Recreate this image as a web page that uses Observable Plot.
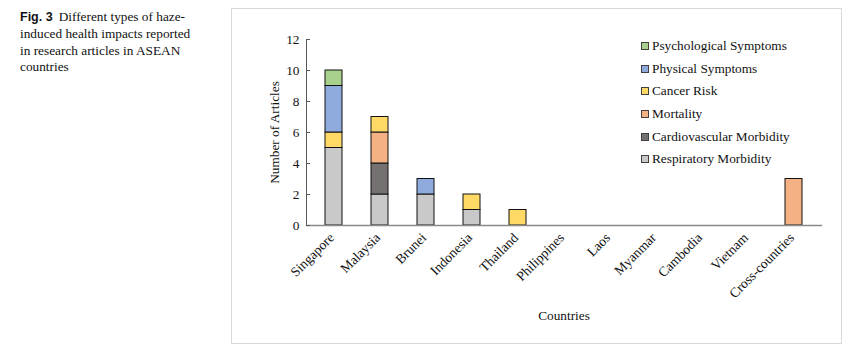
<!DOCTYPE html>
<html>
<head>
<meta charset="utf-8">
<script src="https://cdn.jsdelivr.net/npm/d3@7"></script>
<script src="https://cdn.jsdelivr.net/npm/@observablehq/plot@0.6"></script>
<style>
  body { margin: 0; background: white; width: 857px; height: 360px; position: relative; overflow: hidden; font-family: "Liberation Serif", serif; }
  #caption { position: absolute; left: 20px; top: 9px; width: 200px; font-size: 13.3px; line-height: 16.8px; color: #111; }
  #caption div { white-space: nowrap; }
  #caption b { font-family: "Liberation Sans", Arial, sans-serif; font-weight: bold; font-size: 12.5px; margin-right: 6px; }
  #box { position: absolute; left: 231px; top: 8px; width: 609px; height: 334px; border: 1px solid #d9d9d9; }
  #chart { position: absolute; left: 0; top: 0; }
  #legend { position: absolute; left: 641px; top: 35px; font-size: 13.3px; color: #111; }
  #legend .row { height: 22.6px; display: flex; align-items: center; white-space: nowrap; }
  #legend .sw { width: 6px; height: 6px; border: 1px solid #404040; margin-right: 3px; }
</style>
</head>
<body>
<div id="caption">
  <div><b>Fig. 3</b><span>Different types of haze-</span></div>
  <div>induced health impacts reported</div>
  <div>in research articles in ASEAN</div>
  <div>countries</div>
</div>
<div id="box"></div>
<div id="chart"></div>
<div id="legend"></div>
<script>
const countries = ["Singapore", "Malaysia", "Brunei", "Indonesia", "Thailand", "Philippines", "Laos", "Myanmar", "Cambodia", "Vietnam", "Cross-countries"];
const types = ["Respiratory Morbidity", "Cardiovascular Morbidity", "Mortality", "Cancer Risk", "Physical Symptoms", "Psychological Symptoms"];
const colors = ["#c9c9c9", "#767171", "#f4b183", "#ffd966", "#8faadc", "#a9d18e"];
const respiratory    = [5, 2, 2, 1, 0, 0, 0, 0, 0, 0, 0];
const cardiovascular = [0, 2, 0, 0, 0, 0, 0, 0, 0, 0, 0];
const mortality      = [0, 2, 0, 0, 0, 0, 0, 0, 0, 0, 3];
const cancer         = [1, 1, 0, 1, 1, 0, 0, 0, 0, 0, 0];
const physical       = [3, 0, 1, 0, 0, 0, 0, 0, 0, 0, 0];
const psychological  = [1, 0, 0, 0, 0, 0, 0, 0, 0, 0, 0];
const yTicks = [0, 2, 4, 6, 8, 10, 12];

const seriesValues = [respiratory, cardiovascular, mortality, cancer, physical, psychological];
const data = [];
types.forEach((t, i) => {
  countries.forEach((c, j) => {
    if (seriesValues[i][j] > 0) data.push({country: c, type: t, value: seriesValues[i][j]});
  });
});

const font = "Liberation Serif";
const plot = Plot.plot({
  width: 857,
  height: 360,
  marginLeft: 306,
  marginRight: 36,
  marginTop: 39,
  marginBottom: 135,
  style: {background: "transparent", fontFamily: font, fontSize: "13.3px", color: "#111"},
  x: {domain: countries, paddingInner: 0.62, paddingOuter: 0.31, label: null},
  y: {domain: [0, 12], label: null},
  color: {domain: types, range: colors},
  marks: [
    Plot.barY(data, Plot.stackY({x: "country", y: "value", fill: "type", stroke: "#111", strokeWidth: 1})),
    Plot.frame({anchor: "left", stroke: "#595959"}),
    Plot.frame({anchor: "bottom", stroke: "#8a8a8a", strokeWidth: 1.3}),
    Plot.axisY(yTicks, {tickSize: 4, dx: 4, text: null, stroke: "#595959", label: null}),
    Plot.axisY(yTicks, {tickSize: 0, tickPadding: 7, label: null, fontSize: 13.3}),
    Plot.axisX({tickSize: 0, tickPadding: 7, tickRotate: -45, label: null, fontSize: 13.6, dx: -2, dy: 3}),
    Plot.text(["Countries"], {frameAnchor: "bottom", dy: 94, fontSize: 13.3}),
    Plot.text(["Number of Articles"], {frameAnchor: "left", dx: -32, rotate: -90, textAnchor: "middle", fontSize: 13.3})
  ]
});
document.getElementById("chart").append(plot);

const legend = document.getElementById("legend");
[...types].reverse().forEach(t => {
  const row = document.createElement("div");
  row.className = "row";
  const sw = document.createElement("span");
  sw.className = "sw";
  sw.style.background = colors[types.indexOf(t)];
  const label = document.createElement("span");
  label.textContent = t;
  row.append(sw, label);
  legend.append(row);
});
</script>
</body>
</html>
